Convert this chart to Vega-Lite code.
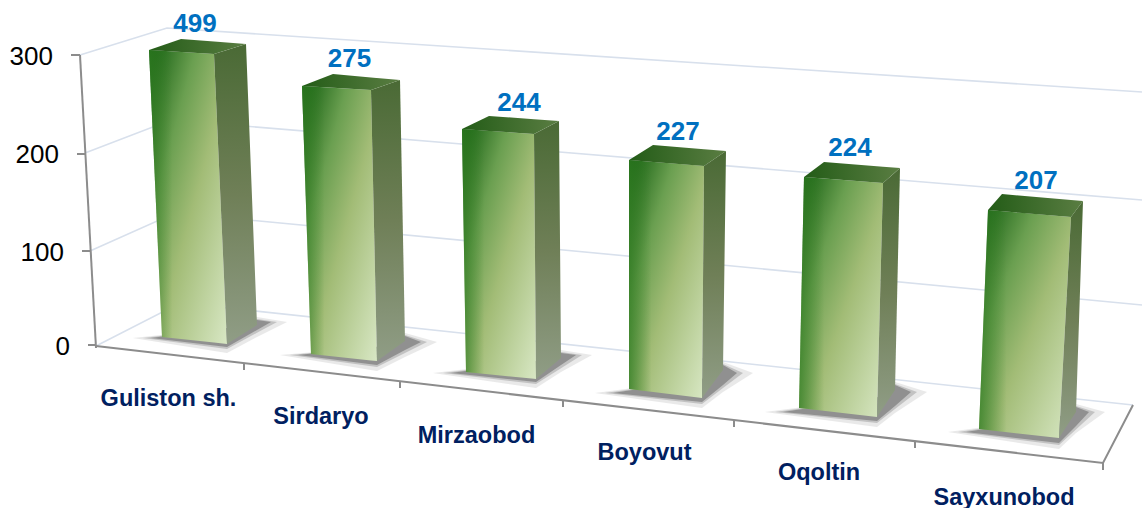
{"$schema":"https://vega.github.io/schema/vega-lite/v6.json","width":1142,"height":508,"padding":0,"autosize":{"type":"none"},"background":"white","config":{"view":{"stroke":null}},
"datasets":{
"lines":[
{"s":"g300","x":-16,"h":290},{"s":"g300","x":71,"h":317},{"s":"g300","x":1046,"h":253},
{"s":"g200","x":-11,"h":192},{"s":"g200","x":75,"h":225},{"s":"g200","x":1046,"h":145},
{"s":"g100","x":-6,"h":94},{"s":"g100","x":79,"h":132},{"s":"g100","x":1046,"h":40},
{"s":"g000","x":0,"h":-1},{"s":"g000","x":84,"h":42},{"s":"g000","x":1037,"h":-60}],
"axes":[
{"s":"left","x":-16,"h":290},{"s":"left","x":0,"h":-3},
{"s":"t300","x":-25,"h":290},{"s":"t300","x":-16,"h":290},
{"s":"t200","x":-19,"h":191},{"s":"t200","x":-11,"h":191},
{"s":"t100","x":-14,"h":94},{"s":"t100","x":-6,"h":94},
{"s":"t000","x":-8,"h":0},{"s":"t000","x":0,"h":0},
{"s":"floor","x":0,"h":-1},{"s":"floor","x":1007,"h":-118},{"s":"floor","x":1037,"h":-60},
{"s":"c1","x":148,"h":-18},{"s":"c1","x":148,"h":-25},
{"s":"c2","x":304,"h":-36},{"s":"c2","x":304,"h":-43},
{"s":"c3","x":467,"h":-55},{"s":"c3","x":467,"h":-62},
{"s":"c4","x":638,"h":-75},{"s":"c4","x":638,"h":-82},
{"s":"c5","x":819,"h":-96},{"s":"c5","x":819,"h":-103},
{"s":"c6","x":1007,"h":-118},{"s":"c6","x":1007,"h":-125}],
"shadows":[
{"b":1,"r":"halo","x":37,"y":7,"y2":7},{"b":1,"r":"halo","x":131,"y":17,"y2":-8},{"b":1,"r":"halo","x":161,"y":28,"y2":8},{"b":1,"r":"halo","x":191,"y":23,"y2":23},
{"b":2,"r":"halo","x":184,"y":-10,"y2":-10},{"b":2,"r":"halo","x":281,"y":-1.7,"y2":-26},{"b":2,"r":"halo","x":309,"y":12,"y2":-12},{"b":2,"r":"halo","x":341,"y":3,"y2":3},
{"b":3,"r":"halo","x":337,"y":-28,"y2":-28},{"b":3,"r":"halo","x":440,"y":-16,"y2":-43},{"b":3,"r":"halo","x":465,"y":-5,"y2":-27},{"b":3,"r":"halo","x":496,"y":-10,"y2":-10},
{"b":4,"r":"halo","x":499,"y":-48,"y2":-48},{"b":4,"r":"halo","x":606,"y":-34,"y2":-63},{"b":4,"r":"halo","x":627,"y":-17,"y2":-47},{"b":4,"r":"halo","x":657,"y":-28,"y2":-28},
{"b":5,"r":"halo","x":669,"y":-67,"y2":-67},{"b":5,"r":"halo","x":781,"y":-52.6,"y2":-82},{"b":5,"r":"halo","x":799,"y":-37,"y2":-68},{"b":5,"r":"halo","x":831,"y":-47,"y2":-47},
{"b":6,"r":"halo","x":852,"y":-87,"y2":-87},{"b":6,"r":"halo","x":963,"y":-72,"y2":-104},{"b":6,"r":"halo","x":980,"y":-59,"y2":-88},{"b":6,"r":"halo","x":1009,"y":-67,"y2":-67},
{"b":1,"r":"outer","x":47,"y":7,"y2":7},{"b":1,"r":"outer","x":131,"y":17,"y2":-4},{"b":1,"r":"outer","x":161,"y":26,"y2":12.2},{"b":1,"r":"outer","x":181,"y":23,"y2":23},
{"b":2,"r":"outer","x":194,"y":-10,"y2":-10},{"b":2,"r":"outer","x":281,"y":-1.7,"y2":-22},{"b":2,"r":"outer","x":309,"y":10,"y2":-8},{"b":2,"r":"outer","x":331,"y":3,"y2":3},
{"b":3,"r":"outer","x":347,"y":-28,"y2":-28},{"b":3,"r":"outer","x":440,"y":-16,"y2":-39},{"b":3,"r":"outer","x":465,"y":-7,"y2":-23.2},{"b":3,"r":"outer","x":486,"y":-10,"y2":-10},
{"b":4,"r":"outer","x":509,"y":-48,"y2":-48},{"b":4,"r":"outer","x":606,"y":-34,"y2":-59},{"b":4,"r":"outer","x":627,"y":-19,"y2":-43.1},{"b":4,"r":"outer","x":647,"y":-28,"y2":-28},
{"b":5,"r":"outer","x":679,"y":-67,"y2":-67},{"b":5,"r":"outer","x":781,"y":-52.6,"y2":-78},{"b":5,"r":"outer","x":799,"y":-39,"y2":-64},{"b":5,"r":"outer","x":821,"y":-47,"y2":-47},
{"b":6,"r":"outer","x":862,"y":-87,"y2":-87},{"b":6,"r":"outer","x":963,"y":-72,"y2":-100},{"b":6,"r":"outer","x":980,"y":-61,"y2":-84.4},{"b":6,"r":"outer","x":999,"y":-67,"y2":-67},
{"b":1,"r":"inner","x":55,"y":7,"y2":7},{"b":1,"r":"inner","x":131,"y":17,"y2":-2},{"b":1,"r":"inner","x":161,"y":25,"y2":15},{"b":1,"r":"inner","x":175,"y":23,"y2":23},
{"b":2,"r":"inner","x":202,"y":-10,"y2":-10},{"b":2,"r":"inner","x":281,"y":-1.7,"y2":-20},{"b":2,"r":"inner","x":309,"y":9,"y2":-5},{"b":2,"r":"inner","x":325,"y":3,"y2":3},
{"b":3,"r":"inner","x":355,"y":-28,"y2":-28},{"b":3,"r":"inner","x":440,"y":-16,"y2":-37},{"b":3,"r":"inner","x":465,"y":-8,"y2":-20},{"b":3,"r":"inner","x":480,"y":-10,"y2":-10},
{"b":4,"r":"inner","x":517,"y":-48,"y2":-48},{"b":4,"r":"inner","x":606,"y":-34,"y2":-57},{"b":4,"r":"inner","x":627,"y":-20,"y2":-40},{"b":4,"r":"inner","x":641,"y":-28,"y2":-28},
{"b":5,"r":"inner","x":687,"y":-67,"y2":-67},{"b":5,"r":"inner","x":781,"y":-52.6,"y2":-76},{"b":5,"r":"inner","x":799,"y":-40,"y2":-61},{"b":5,"r":"inner","x":815,"y":-47,"y2":-47},
{"b":6,"r":"inner","x":870,"y":-87,"y2":-87},{"b":6,"r":"inner","x":963,"y":-72,"y2":-98},{"b":6,"r":"inner","x":980,"y":-62,"y2":-81},{"b":6,"r":"inner","x":993,"y":-67,"y2":-67}],
"front":[
{"b":1,"x":53,"y":295,"y2":295},{"b":1,"x":66,"y":294.2,"y2":8},{"b":1,"x":118,"y":291,"y2":2.4},{"b":1,"x":131,"y":1,"y2":1},
{"b":2,"x":206,"y":259,"y2":259},{"b":2,"x":215,"y":258.5,"y2":-9},{"b":2,"x":275,"y":255,"y2":-15.4},{"b":2,"x":281,"y":-16,"y2":-16},
{"b":3,"x":366,"y":216,"y2":216},{"b":3,"x":370,"y":215.7,"y2":-27},{"b":3,"x":438,"y":211,"y2":-33.8},{"b":3,"x":440,"y":-34,"y2":-34},
{"b":4,"x":533,"y":185,"y2":-44},{"b":4,"x":606,"y":179.2,"y2":-53},{"b":4,"x":608,"y":179,"y2":179},
{"b":5,"x":703,"y":-63,"y2":-63},{"b":5,"x":708,"y":168,"y2":-63.6},{"b":5,"x":781,"y":162.5,"y2":-72},{"b":5,"x":787,"y":162,"y2":162},
{"b":6,"x":883,"y":-84,"y2":-84},{"b":6,"x":892,"y":135,"y2":-85},{"b":6,"x":963,"y":129,"y2":-93},{"b":6,"x":975,"y":128,"y2":128}],
"side":[
{"b":1,"x":118,"y":291,"y2":291},{"b":1,"x":131,"y":295,"y2":1},{"b":1,"x":150,"y":301,"y2":13},{"b":1,"x":161,"y":20,"y2":20},
{"b":2,"x":275,"y":255,"y2":255},{"b":2,"x":281,"y":257.1,"y2":-16},{"b":2,"x":304,"y":265,"y2":0.4},{"b":2,"x":309,"y":4,"y2":4},
{"b":3,"x":438,"y":211,"y2":211},{"b":3,"x":440,"y":212,"y2":-34},{"b":3,"x":463,"y":224,"y2":-14.7},{"b":3,"x":465,"y":-13,"y2":-13},
{"b":4,"x":606,"y":-53,"y2":-53},{"b":4,"x":608,"y":179,"y2":-50.3},{"b":4,"x":627,"y":192,"y2":-25},{"b":4,"x":630,"y":194,"y2":194},
{"b":5,"x":781,"y":-72,"y2":-72},{"b":5,"x":787,"y":162,"y2":-63},{"b":5,"x":799,"y":172.6,"y2":-45},{"b":5,"x":804,"y":177,"y2":177},
{"b":6,"x":963,"y":-93,"y2":-93},{"b":6,"x":975,"y":128,"y2":-74.6},{"b":6,"x":980,"y":134.7,"y2":-67},{"b":6,"x":987,"y":144,"y2":144}],
"top":[
{"b":1,"x":53,"y":295,"y2":295},{"b":1,"x":85,"y":306,"y2":293},{"b":1,"x":118,"y":303.5,"y2":291},{"b":1,"x":150,"y":301,"y2":301},
{"b":2,"x":206,"y":259,"y2":259},{"b":2,"x":237,"y":271,"y2":257.2},{"b":2,"x":275,"y":267.6,"y2":255},{"b":2,"x":304,"y":265,"y2":265},
{"b":3,"x":366,"y":216,"y2":216},{"b":3,"x":393,"y":229,"y2":214.1},{"b":3,"x":438,"y":225.8,"y2":211},{"b":3,"x":463,"y":224,"y2":224},
{"b":4,"x":533,"y":185,"y2":185},{"b":4,"x":557,"y":200,"y2":183.1},{"b":4,"x":608,"y":195.8,"y2":179},{"b":4,"x":630,"y":194,"y2":194},
{"b":5,"x":708,"y":168,"y2":168},{"b":5,"x":728,"y":183,"y2":166.5},{"b":5,"x":787,"y":178.3,"y2":162},{"b":5,"x":804,"y":177,"y2":177},
{"b":6,"x":892,"y":135,"y2":135},{"b":6,"x":906,"y":151,"y2":133.8},{"b":6,"x":975,"y":145,"y2":128},{"b":6,"x":987,"y":144,"y2":144}],
"bars":[
{"name":"Guliston sh.","value":499,"vx":99,"vh":321,"nx":72.5,"nh":-54},
{"name":"Sirdaryo","value":275,"vx":253.5,"vh":286,"nx":225,"nh":-72},
{"name":"Mirzaobod","value":244,"vx":423,"vh":242,"nx":380.5,"nh":-90.5},
{"name":"Boyovut","value":227,"vx":582,"vh":213.5,"nx":548.5,"nh":-108},
{"name":"Oqoltin","value":224,"vx":754,"vh":197,"nx":723,"nh":-128},
{"name":"Sayxunobod","value":207,"vx":940,"vh":164,"nx":908,"nh":-152.5}],
"ticks":[
{"t":"300","x":-43,"h":288},{"t":"200","x":-37,"h":190},{"t":"100","x":-32,"h":92},{"t":"0","x":-26,"h":-2}]
},
"encoding":{
"x":{"field":"x","type":"quantitative","scale":{"domain":[-96,1046],"nice":false,"zero":false},"axis":null},
"y":{"field":"h","type":"quantitative","scale":{"domain":[-163,345],"nice":false,"zero":false},"axis":null}},
"layer":[
{"data":{"name":"lines"},"mark":{"type":"line","color":"#d8e0ec","strokeWidth":1.6},"encoding":{"detail":{"field":"s"}}},
{"data":{"name":"shadows"},"transform":[{"filter":"datum.r=='halo'"}],"mark":{"type":"area","color":"#d4d4d4","opacity":0.5},"encoding":{"y":{"field":"y","type":"quantitative"},"y2":{"field":"y2"},"detail":{"field":"b"}}},
{"data":{"name":"shadows"},"transform":[{"filter":"datum.r=='outer'"}],"mark":{"type":"area","color":"#a8a8a8","opacity":0.6},"encoding":{"y":{"field":"y","type":"quantitative"},"y2":{"field":"y2"},"detail":{"field":"b"}}},
{"data":{"name":"shadows"},"transform":[{"filter":"datum.r=='inner'"}],"mark":{"type":"area","color":"#7a7a7a","opacity":0.7},"encoding":{"y":{"field":"y","type":"quantitative"},"y2":{"field":"y2"},"detail":{"field":"b"}}},
{"data":{"name":"axes"},"mark":{"type":"line","color":"#8c8c8c","strokeWidth":2},"encoding":{"detail":{"field":"s"}}},
{"data":{"name":"front"},"mark":{"type":"area","color":{"gradient":"linear","x1":0,"y1":0,"x2":1,"y2":1,"stops":[{"offset":0,"color":"#0e5a0c"},{"offset":0.3,"color":"#6a9f50"},{"offset":0.55,"color":"#a2bc76"},{"offset":1,"color":"#d8e7c4"}]}},"encoding":{"y":{"field":"y","type":"quantitative"},"y2":{"field":"y2"},"detail":{"field":"b"}}},
{"data":{"name":"front"},"mark":{"type":"area","color":{"gradient":"linear","x1":0,"y1":0,"x2":1,"y2":0,"stops":[{"offset":0,"color":"rgba(50,125,35,0.75)"},{"offset":0.1,"color":"rgba(50,125,35,0.5)"},{"offset":0.3,"color":"rgba(50,125,35,0)"}]}},"encoding":{"y":{"field":"y","type":"quantitative"},"y2":{"field":"y2"},"detail":{"field":"b"}}},
{"data":{"name":"side"},"mark":{"type":"area","color":{"gradient":"linear","x1":0,"y1":0,"x2":0,"y2":1,"stops":[{"offset":0,"color":"#4a6a35"},{"offset":0.5,"color":"#6f7f57"},{"offset":1,"color":"#909d86"}]}},"encoding":{"y":{"field":"y","type":"quantitative"},"y2":{"field":"y2"},"detail":{"field":"b"}}},
{"data":{"name":"top"},"mark":{"type":"area","color":{"gradient":"linear","x1":0,"y1":0,"x2":1,"y2":0,"stops":[{"offset":0,"color":"#235c17"},{"offset":1,"color":"#5a7d42"}]}},"encoding":{"y":{"field":"y","type":"quantitative"},"y2":{"field":"y2"},"detail":{"field":"b"}}},
{"data":{"name":"ticks"},"mark":{"type":"text","align":"right","baseline":"middle","font":"Liberation Sans","fontSize":26,"color":"#000000"},"encoding":{"text":{"field":"t"}}},
{"data":{"name":"bars"},"mark":{"type":"text","align":"center","baseline":"middle","font":"Liberation Sans","fontSize":26,"fontWeight":"bold","color":"#0070c0"},"encoding":{"x":{"field":"vx","type":"quantitative"},"y":{"field":"vh","type":"quantitative"},"text":{"field":"value","type":"quantitative"}}},
{"data":{"name":"bars"},"mark":{"type":"text","align":"center","baseline":"middle","font":"Liberation Sans","fontSize":23.5,"fontWeight":"bold","color":"#002060"},"encoding":{"x":{"field":"nx","type":"quantitative"},"y":{"field":"nh","type":"quantitative"},"text":{"field":"name"}}}
]}
